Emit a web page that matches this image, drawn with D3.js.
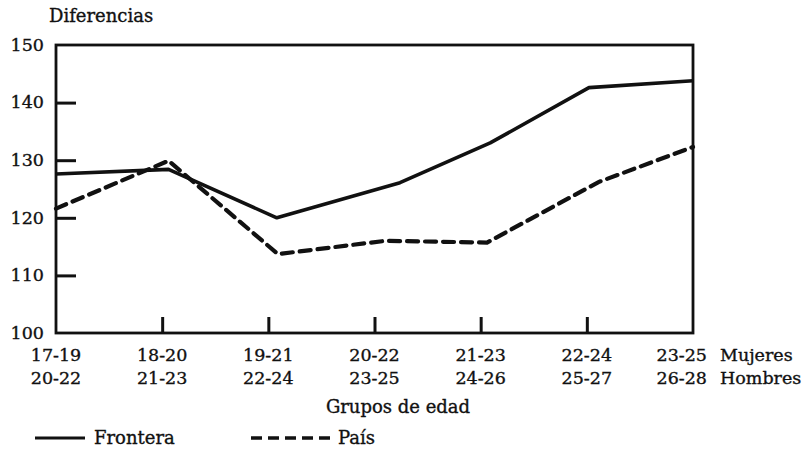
<!DOCTYPE html>
<html><head><meta charset="utf-8">
<script src="https://cdn.jsdelivr.net/npm/d3@7"></script>
<style>
html,body{margin:0;padding:0;background:#fff;}
text{font-family:"DejaVu Serif",serif;fill:#111;stroke:#111;stroke-width:0.35px;}
</style></head>
<body>
<svg id="chart" width="811" height="449"></svg>
<script>
// Data
const mujeres = ["17-19","18-20","19-21","20-22","21-23","22-24","23-25"];
const hombres = ["20-22","21-23","22-24","23-25","24-26","25-27","26-28"];
const yTicks = [100,110,120,130,140,150];
// x positions in category-index units
const fronteraX = [0, 1.06, 2.08, 3.24, 4.09, 5.02, 6];
const fronteraY = [127.6, 128.4, 120.0, 126.1, 133.0, 142.6, 143.8];
const paisX = [0, 1.06, 2.09, 3.10, 4.06, 5.11, 6];
const paisY = [121.6, 129.9, 113.7, 116.0, 115.7, 126.2, 132.3];

const svg = d3.select("#chart");
const L = 56, R = 693, T = 45, B = 333;
const x = d3.scaleLinear().domain([0, 6]).range([L, R]);
const y = d3.scaleLinear().domain([100, 150]).range([B, T]);

// frame
svg.append("rect").attr("x", L).attr("y", T).attr("width", R - L).attr("height", B - T)
  .attr("fill", "none").attr("stroke", "#111").attr("stroke-width", 2.8);

// y axis ticks (inward)
const yAxis = d3.axisLeft(y).tickValues(yTicks).tickSize(-20).tickPadding(32).tickFormat(d3.format("d"));
const gy = svg.append("g").attr("transform", `translate(${L},0)`).call(yAxis);
gy.select(".domain").remove();
gy.selectAll(".tick line").attr("stroke", "#111").attr("stroke-width", 3)
  .filter(d => d === 150 || d === 100).remove();
gy.selectAll(".tick text").attr("font-size", 17.5).attr("font-family", "DejaVu Serif")
  .attr("fill", "#111").attr("x", -12).attr("dy", "0.3em");

// x axis ticks (inward, upward)
const xIdx = d3.range(1, 6);
const xAxis = d3.axisBottom(x).tickValues(xIdx).tickSize(-16).tickFormat("");
const gx = svg.append("g").attr("transform", `translate(0,${B})`).call(xAxis);
gx.select(".domain").remove();
gx.selectAll(".tick line").attr("stroke", "#111").attr("stroke-width", 3);

// x labels
const lab = svg.append("g").attr("font-size", 17.5);
mujeres.forEach((m, i) => {
  const last = i === mujeres.length - 1;
  lab.append("text").attr("x", last ? x(i) + 14 : x(i)).attr("y", 361)
    .attr("text-anchor", last ? "end" : "middle").text(m);
  lab.append("text").attr("x", last ? x(i) + 14 : x(i)).attr("y", 384)
    .attr("text-anchor", last ? "end" : "middle").text(hombres[i]);
});
lab.append("text").attr("x", x(6) + 27).attr("y", 361).text("Mujeres");
lab.append("text").attr("x", x(6) + 27).attr("y", 384).text("Hombres");

// titles
svg.append("text").attr("x", 49).attr("y", 22).attr("font-size", 18).text("Diferencias");
svg.append("text").attr("x", 398).attr("y", 413).attr("text-anchor", "middle")
  .attr("font-size", 18).text("Grupos de edad");

// lines
const line = d3.line().x(d => x(d[0])).y(d => y(d[1]));
svg.append("path").datum(fronteraX.map((v, i) => [v, fronteraY[i]]))
  .attr("d", line).attr("fill", "none").attr("stroke", "#111")
  .attr("stroke-width", 3.6).attr("stroke-linejoin", "round");
svg.append("path").datum(paisX.map((v, i) => [v, paisY[i]]))
  .attr("d", line).attr("fill", "none").attr("stroke", "#111")
  .attr("stroke-width", 4.2).attr("stroke-dasharray", "11,7").attr("stroke-linecap", "round");

// legend
const lg = svg.append("g");
lg.append("line").attr("x1", 35).attr("x2", 85).attr("y1", 438).attr("y2", 438)
  .attr("stroke", "#111").attr("stroke-width", 2.8);
lg.append("text").attr("x", 94).attr("y", 444).attr("font-size", 18).text("Frontera");
lg.append("line").attr("x1", 251).attr("x2", 332).attr("y1", 438).attr("y2", 438)
  .attr("stroke", "#111").attr("stroke-width", 3.6).attr("stroke-dasharray", "11,6");
lg.append("text").attr("x", 338).attr("y", 444).attr("font-size", 18).text("País");
</script>
</body></html>
